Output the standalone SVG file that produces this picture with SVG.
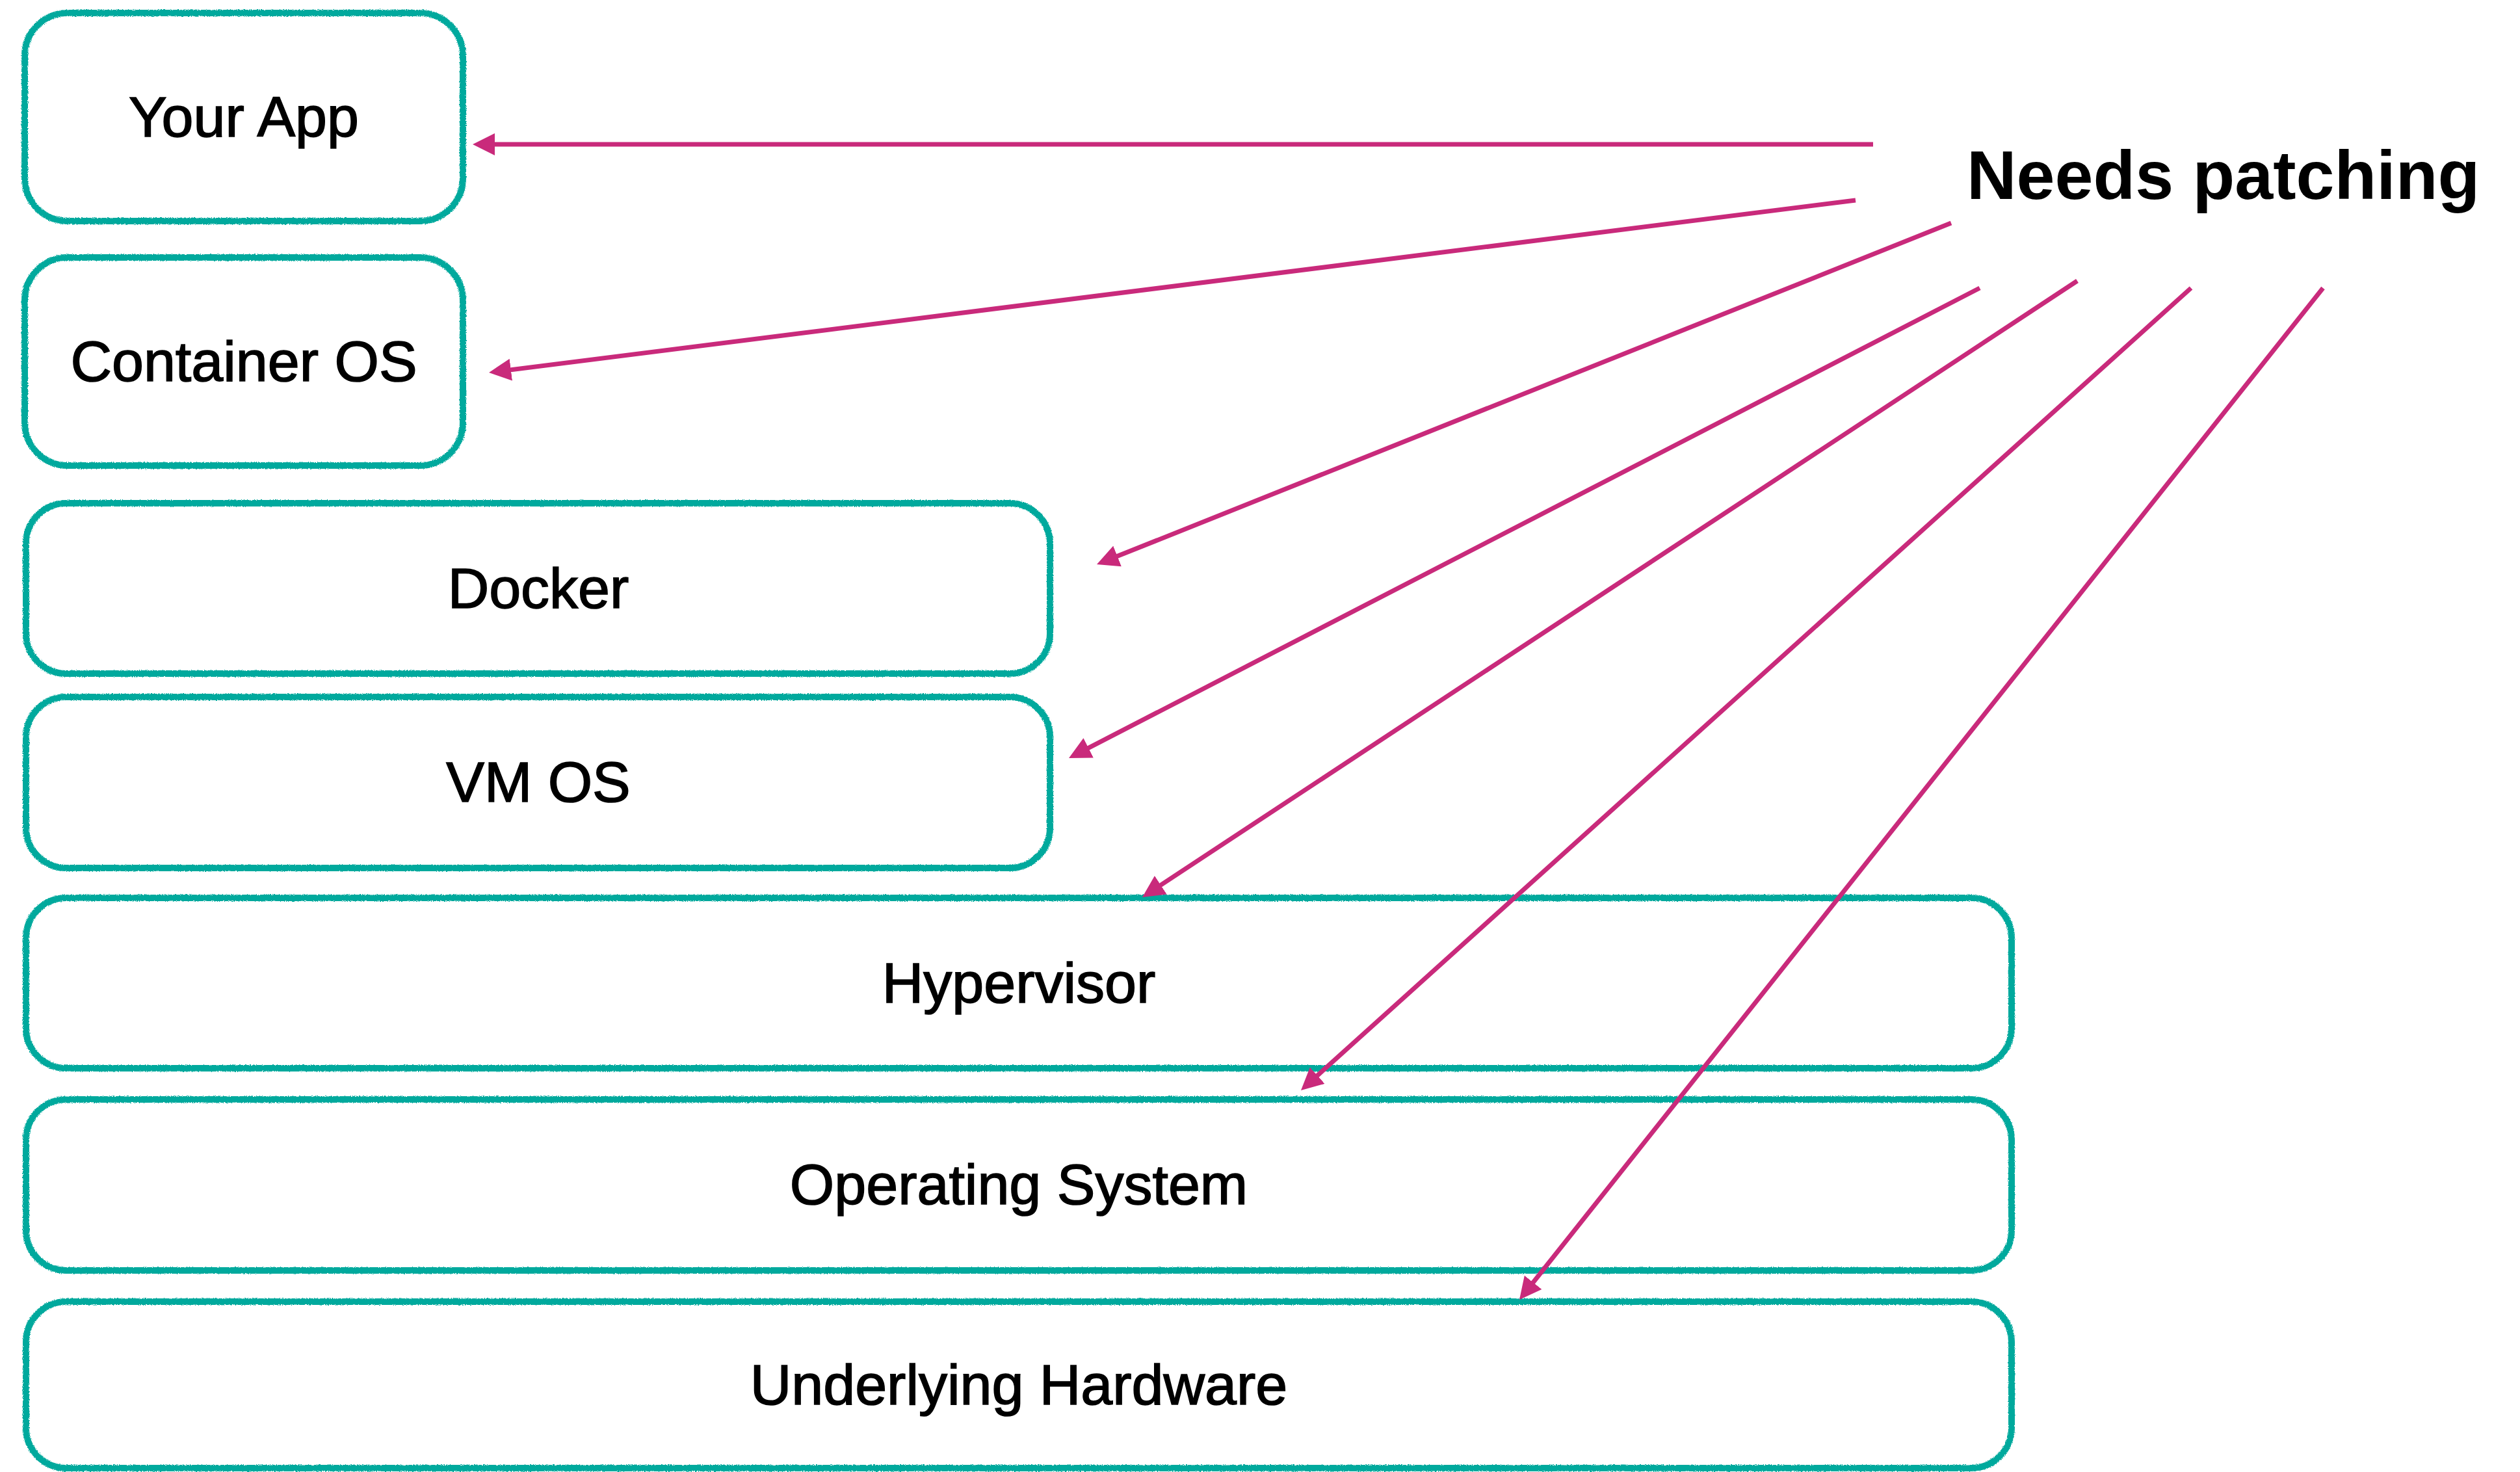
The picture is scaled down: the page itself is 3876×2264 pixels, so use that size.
<svg xmlns="http://www.w3.org/2000/svg" width="3876" height="2264" viewBox="0 0 3876 2264">
  <style>
    .box { fill: #ffffff; stroke: #04A99D; stroke-width: 10; filter: url(#rough); }
    .lbl { font-family: "Liberation Sans", Arial, sans-serif; font-size: 88px; fill: #000000; stroke: #000000; stroke-width: 1.6; text-anchor: middle; }
    .title { font-family: "Liberation Sans", Arial, sans-serif; font-size: 106px; font-weight: bold; fill: #000000; }
    .arrow { stroke: #C92A7B; stroke-width: 7; fill: none; stroke-linecap: butt; marker-end: url(#head); }
  </style>
  <defs>
    <filter id="rough" x="-3%" y="-3%" width="106%" height="106%">
      <feTurbulence type="fractalNoise" baseFrequency="0.9" numOctaves="2" seed="3" result="n"/>
      <feDisplacementMap in="SourceGraphic" in2="n" scale="4" xChannelSelector="R" yChannelSelector="G"/>
    </filter>
    <marker id="head" markerUnits="userSpaceOnUse" viewBox="0 0 34 34" markerWidth="34" markerHeight="34" refX="24" refY="17" orient="auto">
      <path d="M0,0 L34,17 L0,34 Z" fill="#C92A7B"/>
    </marker>
  </defs>
  <rect width="3876" height="2264" fill="#ffffff"/>

  <g id="your-app">
    <rect class="box" x="38" y="20" width="674" height="320" rx="66" ry="66"/>
    <text class="lbl" x="375" y="210">Your App</text>
  </g>
  <g id="container-os">
    <rect class="box" x="38" y="396" width="674" height="320" rx="66" ry="66"/>
    <text class="lbl" x="375" y="586">Container OS</text>
  </g>
  <g id="docker">
    <rect class="box" x="40" y="774" width="1575" height="262" rx="62" ry="62"/>
    <text class="lbl" x="828" y="935">Docker</text>
  </g>
  <g id="vm-os">
    <rect class="box" x="40" y="1072" width="1575" height="263" rx="62" ry="62"/>
    <text class="lbl" x="828" y="1233">VM OS</text>
  </g>
  <g id="hypervisor">
    <rect class="box" x="40" y="1381" width="3054" height="262" rx="62" ry="62"/>
    <text class="lbl" x="1567" y="1542">Hypervisor</text>
  </g>
  <g id="operating-system">
    <rect class="box" x="40" y="1691" width="3054" height="263" rx="62" ry="62"/>
    <text class="lbl" x="1567" y="1852">Operating System</text>
  </g>
  <g id="underlying-hardware">
    <rect class="box" x="40" y="2002" width="3054" height="256" rx="62" ry="62"/>
    <text class="lbl" x="1567" y="2160">Underlying Hardware</text>
  </g>
  <g id="needs-patching">
    <text class="title" x="3025" y="306">Needs patching</text>
  </g>

  <g id="connectors">
    <line class="arrow" x1="2881" y1="222" x2="737" y2="222"/>
    <line class="arrow" x1="2854" y1="308" x2="762" y2="571.7"/>
    <line class="arrow" x1="3001" y1="343" x2="1696.3" y2="864.3"/>
    <line class="arrow" x1="3045" y1="443" x2="1652.9" y2="1161.4"/>
    <line class="arrow" x1="3195" y1="432" x2="1765.3" y2="1374.5"/>
    <line class="arrow" x1="3370" y1="443" x2="2008.4" y2="1670.3"/>
    <line class="arrow" x1="3573" y1="443" x2="2343.2" y2="1991.2"/>
  </g>
</svg>
